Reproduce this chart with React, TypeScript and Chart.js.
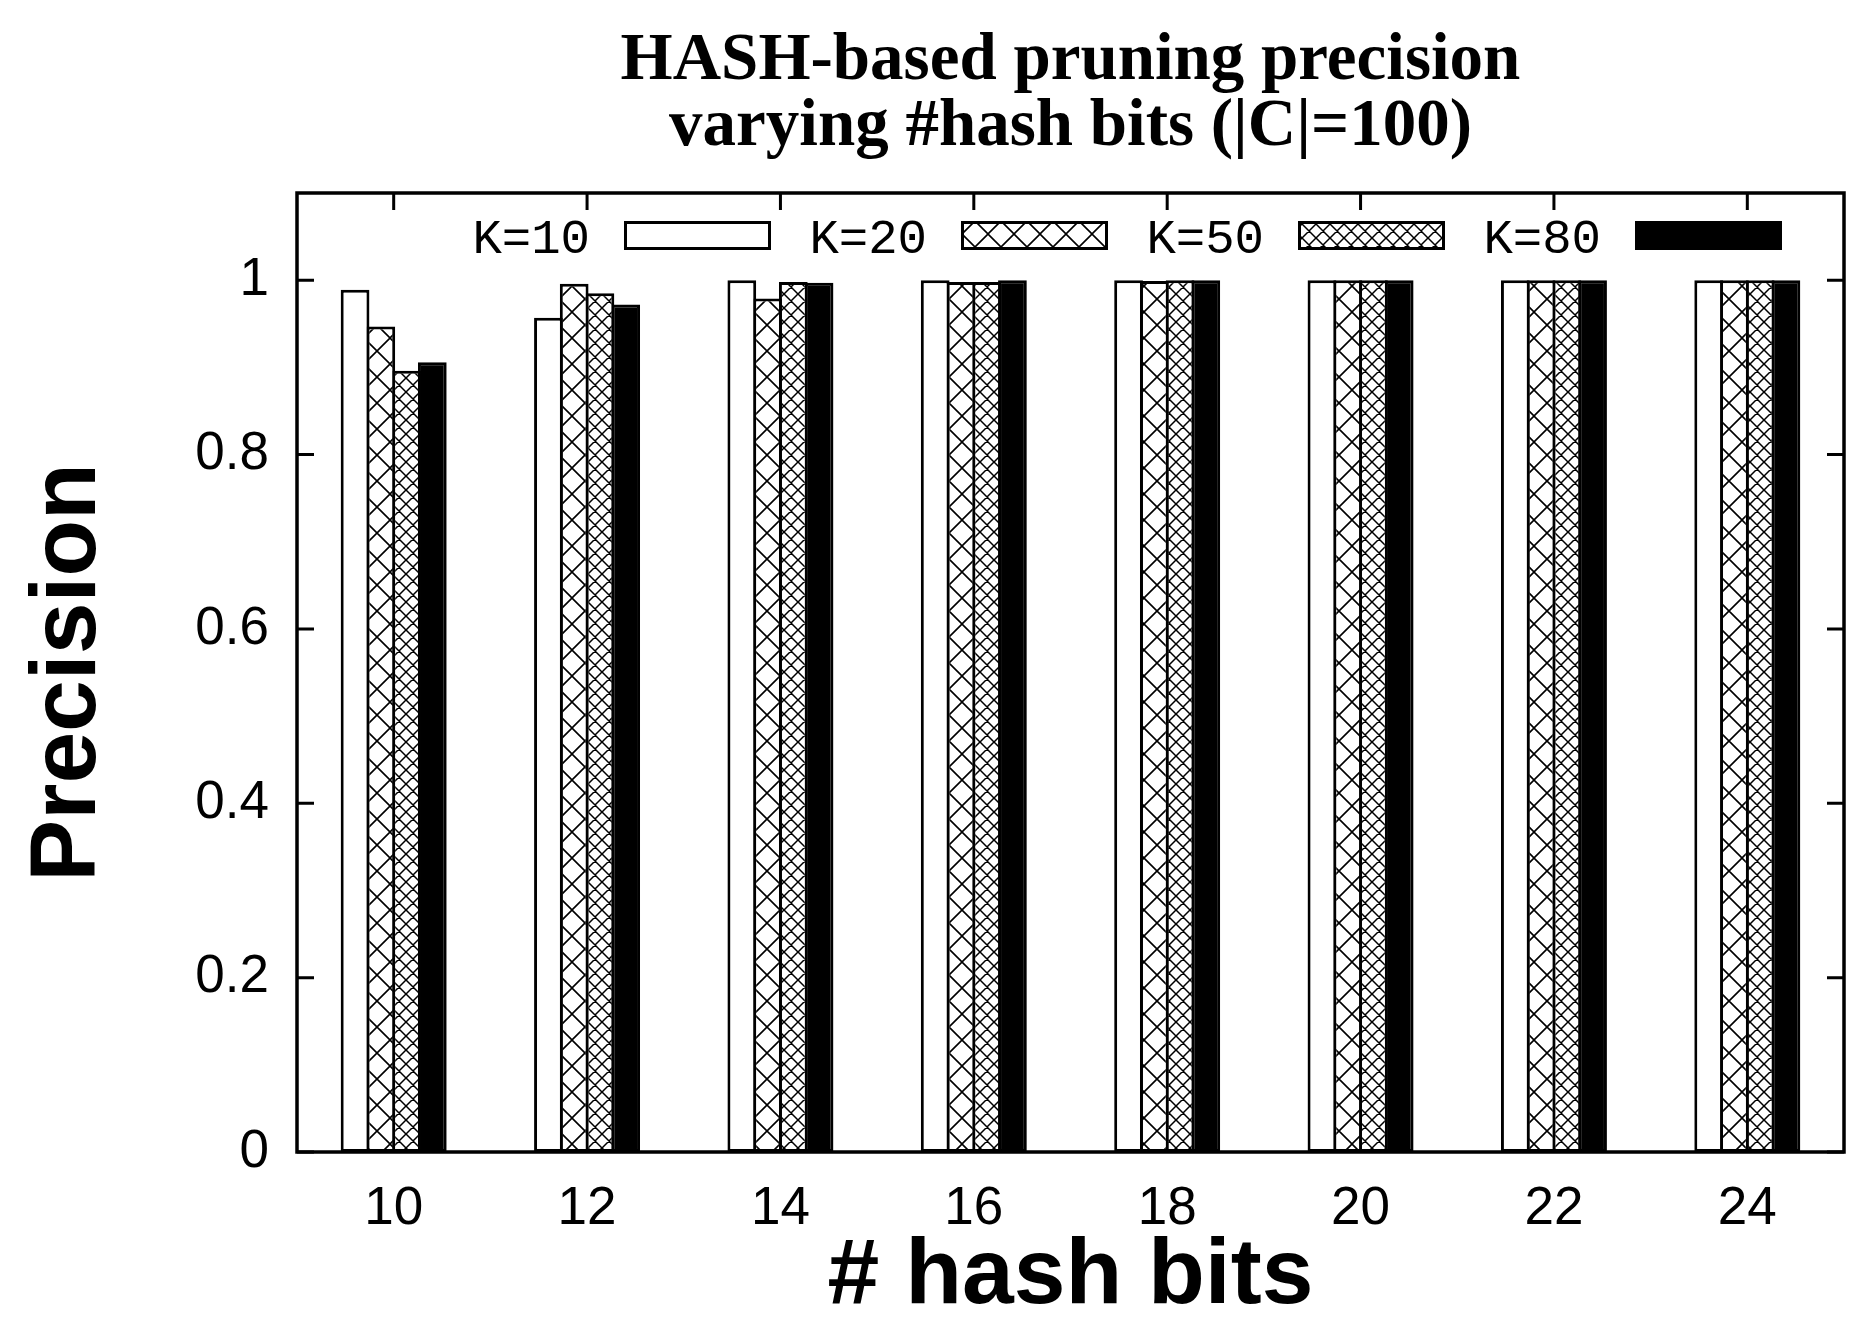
import React, { useEffect, useRef } from "react";
import { Chart, registerables } from "chart.js";

Chart.register(...registerables);

// ---- data ----
const categories = ["10", "12", "14", "16", "18", "20", "22", "24"];
const seriesLabels = ["K=10", "K=20", "K=50", "K=80"];
const k10 = [0.989, 0.957, 1.0, 1.0, 1.0, 1.0, 1.0, 1.0];
const k20 = [0.947, 0.996, 0.979, 0.998, 0.999, 1.0, 1.0, 1.0];
const k50 = [0.896, 0.985, 0.998, 0.998, 1.0, 1.0, 1.0, 1.0];
const k80 = [0.906, 0.972, 0.997, 1.0, 1.0, 1.0, 1.0, 1.0];
const yTickValues = [0, 0.2, 0.4, 0.6, 0.8, 1];
const yTickLabels = ["0", "0.2", "0.4", "0.6", "0.8", "1"];
const titleLines = ["HASH-based pruning precision", "varying #hash bits (|C|=100)"];
const xTitle = "# hash bits";
const yTitle = "Precision";

function makeHatch(d: number, lw: number): CanvasPattern | string {
  const c = document.createElement("canvas");
  c.width = d;
  c.height = d;
  const g = c.getContext("2d");
  if (!g) return "#fff";
  g.fillStyle = "#fff";
  g.fillRect(0, 0, d, d);
  g.strokeStyle = "#000";
  g.lineWidth = lw;
  g.beginPath();
  for (const k of [-1, 0, 1]) {
    g.moveTo(k * d, 0);
    g.lineTo(k * d + d, d);
    g.moveTo(k * d, d);
    g.lineTo(k * d + d, 0);
  }
  g.stroke();
  return g.createPattern(c, "repeat") || "#fff";
}

export default function App() {
  const ref = useRef<HTMLCanvasElement | null>(null);

  useEffect(() => {
    const canvas = ref.current;
    if (!canvas) return;

    const fills: (string | CanvasPattern)[] = ["#ffffff", makeHatch(26, 1.6), makeHatch(14, 1.5), "#000000"];
    const values = [k10, k20, k50, k80];

    const bgPlugin = {
      id: "bg",
      beforeDraw(chart: any) {
        const ctx = chart.ctx;
        ctx.save();
        ctx.fillStyle = "#fff";
        ctx.fillRect(0, 0, chart.width, chart.height);
        ctx.restore();
      },
    };

    const decorPlugin = {
      id: "decor",
      afterDatasetsDraw(chart: any) {
        const ctx = chart.ctx;
        const a = chart.chartArea;
        const xs = chart.scales.x;
        const ys = chart.scales.y;
        ctx.save();
        // frame
        ctx.strokeStyle = "#000";
        ctx.lineWidth = 3.5;
        ctx.strokeRect(a.left, a.top, a.right - a.left, a.bottom - a.top);
        // ticks
        ctx.lineWidth = 3;
        ctx.beginPath();
        const tl = 17;
        for (const v of yTickValues) {
          const y = ys.getPixelForValue(v);
          ctx.moveTo(a.left, y);
          ctx.lineTo(a.left + tl, y);
          ctx.moveTo(a.right, y);
          ctx.lineTo(a.right - tl, y);
        }
        categories.forEach((_, i) => {
          const x = xs.getPixelForValue(i);
          ctx.moveTo(x, a.top);
          ctx.lineTo(x, a.top + tl);
        });
        ctx.stroke();

        // legend (inside, top)
        const boxW = 147;
        const boxH = 29;
        const step = 337;
        ctx.font = "49px 'Liberation Mono', monospace";
        ctx.textAlign = "right";
        ctx.textBaseline = "alphabetic";
        chart.data.datasets.forEach((ds: any, i: number) => {
          const bx = a.left + 327 + step * i;
          const by = a.top + 28;
          ctx.fillStyle = ds.backgroundColor;
          ctx.fillRect(bx, by, boxW, boxH);
          ctx.strokeStyle = "#000";
          ctx.lineWidth = 3;
          ctx.strokeRect(bx + 1.5, by + 1.5, boxW - 3, boxH - 3);
          ctx.fillStyle = "#000";
          ctx.fillText(ds.label, bx - 34, a.top + 60);
        });

        // title
        ctx.textAlign = "center";
        ctx.font = "bold 67px 'Liberation Serif', serif";
        ctx.fillStyle = "#000";
        const cx = (a.left + a.right) / 2;
        ctx.fillText(titleLines[0], cx, 79);
        ctx.fillText(titleLines[1], cx, 145);
        ctx.restore();
      },
    };

    const chart = new Chart(canvas, {
      type: "bar",
      data: {
        labels: categories,
        datasets: seriesLabels.map((label, i) => ({
          label,
          data: values[i],
          backgroundColor: fills[i] as any,
          borderColor: "#000",
          borderWidth: 3,
          borderSkipped: false,
          categoryPercentage: 0.5326,
          barPercentage: 1.1165,
        })),
      },
      options: {
        responsive: false,
        animation: false,
        devicePixelRatio: 1,
        layout: { padding: { top: 193, right: 25, left: 0, bottom: 0 } },
        plugins: {
          legend: { display: false },
          title: { display: false },
          tooltip: { enabled: false },
        },
        scales: {
          x: {
            type: "category",
            offset: true,
            grid: { display: false, drawTicks: false },
            border: { display: false },
            ticks: {
              color: "#000",
              font: { family: "'Liberation Sans', Arial, sans-serif", size: 53 },
              padding: 26,
              maxRotation: 0,
              autoSkip: false,
            },
            title: {
              display: true,
              text: xTitle,
              color: "#000",
              font: { family: "'Liberation Sans', Arial, sans-serif", size: 93, weight: "bold", lineHeight: 1 },
              padding: { top: 0, bottom: 6 },
            },
            afterFit(scale: any) {
              scale.height = 178;
            },
          },
          y: {
            type: "linear",
            min: 0,
            max: 1.1,
            grid: { display: false, drawTicks: false },
            border: { display: false },
            afterBuildTicks(axis: any) {
              axis.ticks = yTickValues.map((v) => ({ value: v }));
            },
            ticks: {
              color: "#000",
              font: { family: "'Liberation Sans', Arial, sans-serif", size: 53 },
              padding: 28,
              callback: (v: any) => {
                const idx = yTickValues.findIndex((t) => Math.abs(t - Number(v)) < 1e-9);
                return idx >= 0 ? yTickLabels[idx] : "";
              },
            },
            title: {
              display: true,
              text: yTitle,
              color: "#000",
              font: { family: "'Liberation Sans', Arial, sans-serif", size: 93, weight: "bold", lineHeight: 1 },
              padding: { top: 23, bottom: 0 },
            },
            afterFit(scale: any) {
              scale.width = 297;
            },
          },
        },
      },
      plugins: [bgPlugin, decorPlugin],
    } as any);

    return () => chart.destroy();
  }, []);

  return (
    <div style={{ position: "fixed", left: 0, top: 0, width: 1869, height: 1330, background: "#fff" }}>
      <canvas ref={ref} width={1869} height={1330} style={{ display: "block", width: 1869, height: 1330 }} />
    </div>
  );
}
